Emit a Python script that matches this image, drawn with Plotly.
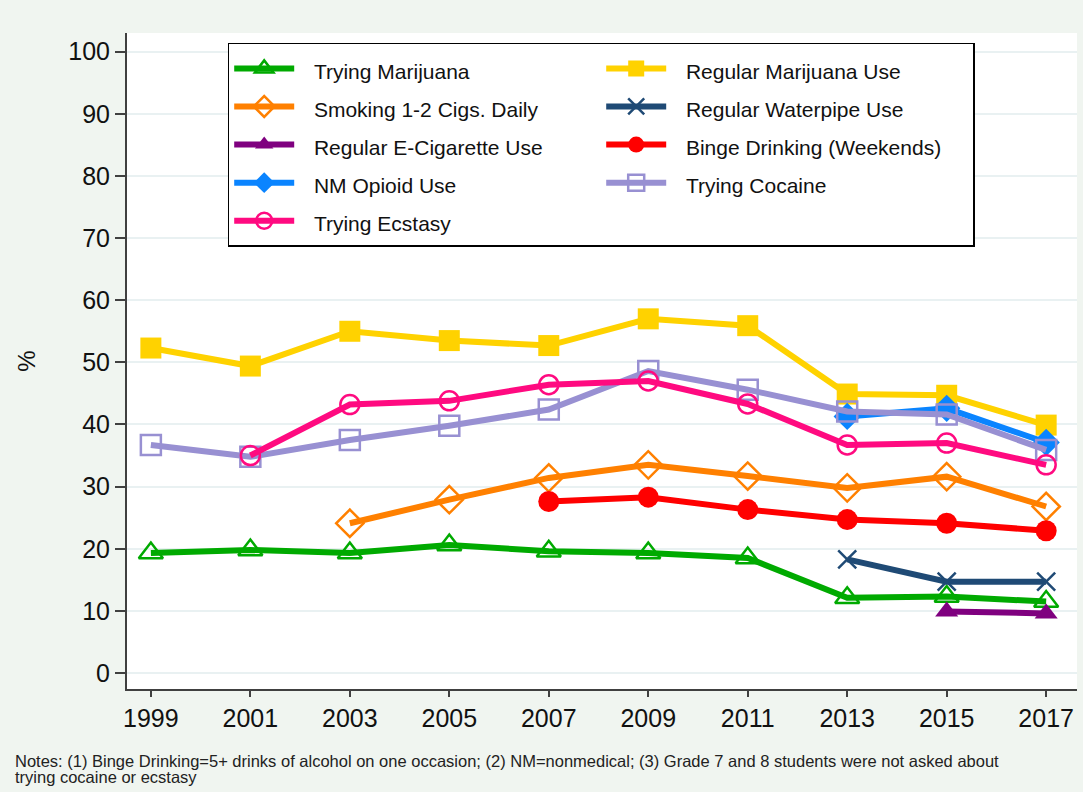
import plotly.graph_objects as go

# Survey years and prevalence (%) for each behaviour
years = [1999, 2001, 2003, 2005, 2007, 2009, 2011, 2013, 2015, 2017]
trying_marijuana = [19.3, 19.8, 19.3, 20.6, 19.6, 19.3, 18.5, 12.1, 12.3, 11.5]
regular_marijuana = [52.3, 49.4, 55.0, 53.5, 52.7, 57.0, 55.9, 44.9, 44.7, 39.9]
smoking_cigs = [None, None, 24.1, 27.9, 31.4, 33.5, 31.7, 29.8, 31.6, 26.8]
regular_waterpipe = [None, None, None, None, None, None, None, 18.3, 14.7, 14.7]
regular_ecig = [None, None, None, None, None, None, None, None, 9.9, 9.6]
binge_drinking = [None, None, None, None, 27.6, 28.3, 26.3, 24.7, 24.1, 22.9]
nm_opioid = [None, None, None, None, None, None, None, 41.3, 42.6, 37.1]
trying_cocaine = [36.7, 34.8, 37.5, 39.8, 42.4, 48.6, 45.6, 42.1, 41.6, 35.9]
trying_ecstasy = [None, 35.0, 43.2, 43.8, 46.4, 47.0, 43.3, 36.7, 37.0, 33.5]

y_ticks = [0, 10, 20, 30, 40, 50, 60, 70, 80, 90, 100]
notes_lines = [
    "Notes: (1) Binge Drinking=5+ drinks of alcohol on one occasion; (2) NM=nonmedical; "
    "(3) Grade 7 and 8 students were not asked about",
    "trying cocaine or ecstasy",
]

# (label, values, colour, marker symbol, marker size) in legend order (row by row)
series = [
    ("Trying Marijuana", trying_marijuana, "#00AA00", "triangle-up-open", 21),
    ("Regular Marijuana Use", regular_marijuana, "#FFD200", "square", 21),
    ("Smoking 1-2 Cigs. Daily", smoking_cigs, "#FF8000", "diamond-open", 21),
    ("Regular Waterpipe Use", regular_waterpipe, "#1F4A75", "x-thin-open", 18),
    ("Regular E-Cigarette Use", regular_ecig, "#7F007F", "triangle-up", 20),
    ("Binge Drinking (Weekends)", binge_drinking, "#FF0000", "circle", 21),
    ("NM Opioid Use", nm_opioid, "#0A84FF", "diamond", 21),
    ("Trying Cocaine", trying_cocaine, "#9890D2", "square-open", 20),
    ("Trying Ecstasy", trying_ecstasy, "#FF0A80", "circle-open", 19),
]

fig = go.Figure()
for label, values, colour, symbol, size in series:
    is_open = symbol.endswith("open")
    fig.add_trace(go.Scatter(
        x=years, y=values,
        # smaller text inside a taller legend row; en + thin space pad the gap after the key
        name='<span style="font-size:21px">\u2002\u2009' + label + "</span>",
        mode="lines+markers",
        line=dict(color=colour, width=6),
        marker=dict(symbol=symbol, size=size, color=colour,
                    line=dict(width=2.5 if is_open else 0, color=colour)),
        connectgaps=False,
    ))

font_family = "Liberation Sans, Arial, sans-serif"

fig.update_layout(
    width=1083, height=792,
    margin=dict(l=127, r=6, t=33, b=103),
    paper_bgcolor="#F0F5F0",
    plot_bgcolor="#FFFFFF",
    font=dict(family=font_family, color="#111111"),
    showlegend=True,
    legend=dict(
        orientation="h",
        x=0.106, y=0.985, xanchor="left", yanchor="top",
        bgcolor="#FFFFFF", bordercolor="#000000", borderwidth=1.5,
        font=dict(size=27, family=font_family, color="#111111"),
        itemwidth=60, entrywidth=297, entrywidthmode="pixels",
        traceorder="normal",
    ),
    xaxis=dict(
        range=[1998.52, 2017.62],
        tickvals=years, ticktext=[str(y) for y in years],
        showgrid=False, zeroline=False,
        showline=True, linecolor="#404040", linewidth=2,
        ticks="outside", ticklen=6, tickwidth=1.5, tickcolor="#404040",
        tickfont=dict(size=25),
    ),
    yaxis=dict(
        range=[-2.57, 103.0],
        tickvals=y_ticks,
        showgrid=True, gridcolor="#E9F1F2", gridwidth=2,
        zeroline=False,
        showline=True, linecolor="#404040", linewidth=2,
        ticks="outside", ticklen=10, tickwidth=1.5, tickcolor="#404040",
        tickfont=dict(size=25),
        title=dict(text="%", font=dict(size=24), standoff=26),
    ),
)

# Footnote, one annotation per line for tight line spacing
for i, line in enumerate(notes_lines):
    fig.add_annotation(
        text=line, xref="paper", yref="paper",
        x=-0.12, y=-0.109 - 0.0244 * i, xanchor="left", yanchor="middle",
        align="left", showarrow=False,
        font=dict(size=16.5, family=font_family, color="#222222"),
    )

fig.write_html("out.html")
